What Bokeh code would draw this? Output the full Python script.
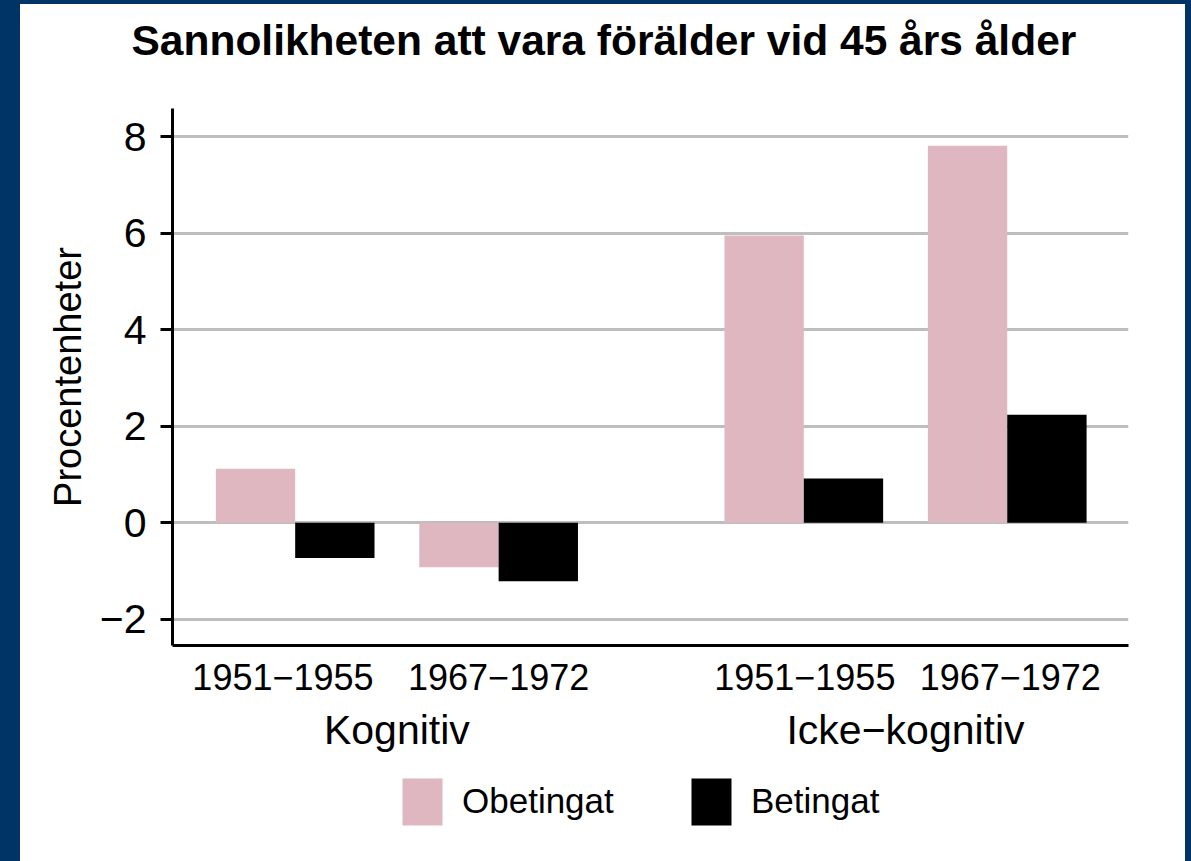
from bokeh.plotting import figure
from bokeh.models import FixedTicker, LinearAxis, Legend, LegendItem, ColumnDataSource
from bokeh.layouts import column
from bokeh.embed import file_html
from bokeh.resources import INLINE

# ---- data ----
title_text = "Sannolikheten att vara förälder vid 45 års ålder"
cohorts = ["1951−1955", "1967−1972", "1951−1955", "1967−1972"]
groups = ["Kognitiv", "Icke−kognitiv"]
series = ["Obetingat", "Betingat"]
x_pos = [1.0, 2.0, 3.5, 4.5]
label_pos = [0.94, 2.0, 3.505, 4.515]
group_pos = [1.5, 4.0]
obetingat = [1.12, -0.92, 5.95, 7.81]
betingat = [-0.73, -1.21, 0.92, 2.24]
y_ticks = [-2, 0, 2, 4, 6, 8]
y_tick_labels = ["−2", "0", "2", "4", "6", "8"]

PINK = "#dfb7c0"
BLUE = "#003366"
FONT = "Liberation Sans"
BW = 0.39
W = 1191
SIDES = f"inset 20px 0 0 0 {BLUE}, inset -6px 0 0 0 {BLUE}"


def bare(fig):
    fig.outline_line_color = None
    fig.xgrid.visible = False
    fig.ygrid.visible = False
    fig.background_fill_color = None
    fig.border_fill_color = None


src = ColumnDataSource(dict(
    xo=[x - BW / 2 for x in x_pos],
    xb=[x + BW / 2 for x in x_pos],
    o=obetingat, b=betingat))

# ---- title strip ----
t = figure(width=W, height=65, x_range=(0, 1), y_range=(0, 1),
           output_backend="svg", toolbar_location=None, title=title_text,
           x_axis_type=None, y_axis_type=None,
           min_border_left=172, min_border_right=63, min_border_top=63, min_border_bottom=0)
bare(t)
t.styles = {"box-shadow": f"{SIDES}, inset 0 4px 0 0 {BLUE}"}
t.title.text_font = FONT
t.title.text_font_size = "42.5px"
t.title.text_font_style = "bold"
t.title.text_color = "black"
t.title.align = "left"
t.title.offset = -41
t.title.standoff = 0

# ---- main chart ----
p = figure(width=W, height=706, x_range=(0.397, 5.096), y_range=(-2.54, 8.58),
           output_backend="svg", toolbar_location=None, title=None,
           min_border_left=172, min_border_right=63, min_border_top=43, min_border_bottom=126)
p.styles = {"box-shadow": SIDES}
p.outline_line_color = None
p.background_fill_color = "white"
p.border_fill_color = None

r1 = p.vbar(x="xo", top="o", bottom=0, width=BW, source=src, fill_color=PINK, line_color=None)
r2 = p.vbar(x="xb", top="b", bottom=0, width=BW, source=src, fill_color="black", line_color=None)

p.xgrid.visible = False
p.ygrid.ticker = FixedTicker(ticks=y_ticks)
p.ygrid.grid_line_color = "#bebebe"
p.ygrid.grid_line_width = 3

ya = p.yaxis[0]
ya.ticker = FixedTicker(ticks=y_ticks)
ya.major_label_overrides = {t_: l for t_, l in zip(y_ticks, y_tick_labels)}
ya.axis_line_width = 3
ya.major_tick_line_width = 3
ya.major_tick_out = 12
ya.major_tick_in = 0
ya.minor_tick_line_color = None
ya.major_label_text_font = FONT
ya.major_label_text_font_size = "41px"
ya.major_label_text_color = "black"
ya.major_label_standoff = 14
ya.axis_label = "Procentenheter"
ya.axis_label_text_font = FONT
ya.axis_label_text_font_size = "38px"
ya.axis_label_text_font_style = "normal"
ya.axis_label_text_color = "black"
ya.axis_label_standoff = 8

xa = p.xaxis[0]
xa.ticker = FixedTicker(ticks=label_pos)
xa.major_label_overrides = {x: c for x, c in zip(label_pos, cohorts)}
xa.axis_line_width = 3
xa.major_tick_line_color = None
xa.major_tick_out = 0
xa.major_tick_in = 0
xa.minor_tick_line_color = None
xa.major_label_text_font = FONT
xa.major_label_text_font_size = "36px"
xa.major_label_text_color = "black"
xa.major_label_standoff = 18

ga = LinearAxis(ticker=FixedTicker(ticks=group_pos),
                major_label_overrides={x: g for x, g in zip(group_pos, groups)},
                axis_line_color=None, major_tick_line_color=None, minor_tick_line_color=None,
                major_tick_out=0, major_tick_in=0,
                major_label_text_font=FONT, major_label_text_font_size="41px",
                major_label_text_color="black", major_label_standoff=14)
p.add_layout(ga, "below")

# ---- legend strip (its renderers plot the same data, outside the visible ranges) ----
q = figure(width=W, height=90, x_range=(20, 21), y_range=(100, 101),
           output_backend="svg", toolbar_location=None, title=None,
           x_axis_type=None, y_axis_type=None,
           min_border_left=172, min_border_right=63, min_border_top=0, min_border_bottom=0)
bare(q)
q.styles = {"box-shadow": SIDES}
l1 = q.vbar(x="xo", top="o", bottom=0, width=BW, source=src, fill_color=PINK, line_color=None)
l2 = q.vbar(x="xb", top="b", bottom=0, width=BW, source=src, fill_color="black", line_color=None)
legend = Legend(items=[LegendItem(label=series[0], renderers=[l1]),
                       LegendItem(label=series[1], renderers=[l2])],
                orientation="horizontal", glyph_width=50, glyph_height=59,
                label_standoff=15, spacing=72, padding=0, margin=0, label_width=152,
                label_text_font=FONT, label_text_font_size="35px",
                label_text_color="black",
                border_line_color=None, background_fill_alpha=0,
                location=(225, 30.5))
q.add_layout(legend, "center")

layout = column(t, p, q, spacing=0)
open("out.html", "w").write(file_html(layout, INLINE))
